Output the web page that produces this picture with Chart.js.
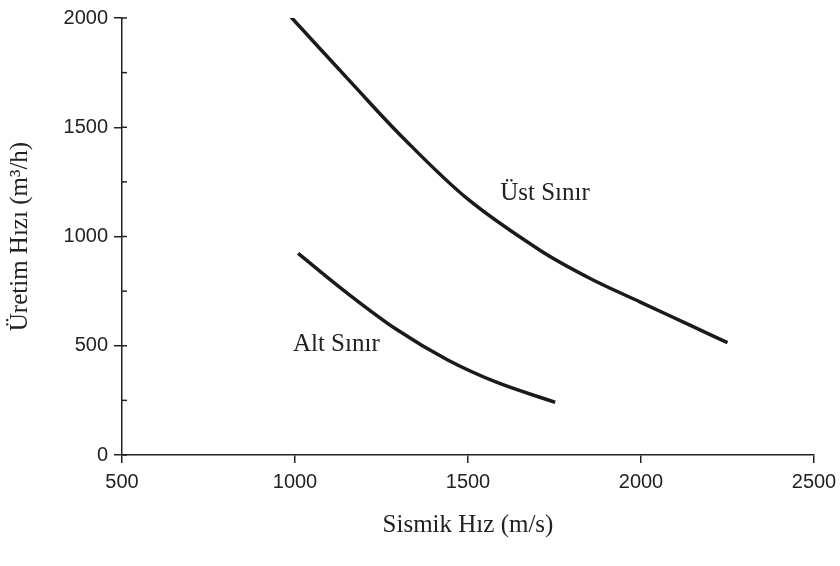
<!DOCTYPE html>
<html>
<head>
<meta charset="utf-8">
<script src="https://cdn.jsdelivr.net/npm/chart.js@4/dist/chart.umd.min.js"></script>
<style>
  html, body { margin: 0; padding: 0; background: #fff; }
  #wrap { width: 840px; height: 566px; }
</style>
</head>
<body>
<div id="wrap"><canvas id="chart"></canvas></div>
<script>
// --- Data ---
const upperX = [977, 1168, 1304, 1498, 1709, 1853, 1998, 2143, 2250];
const upperY = [2024, 1695, 1465, 1173, 936, 808, 700, 593, 514];
const lowerX = [1009, 1151, 1295, 1440, 1584, 1752];
const lowerY = [923, 741, 573, 436, 332, 241];

const xTicks = [500, 1000, 1500, 2000, 2500];
const yTicks = [0, 500, 1000, 1500, 2000];
const yMinorStep = 250;

const curveLabels = [
    { text: 'Üst Sınır', x: 1593, y: 1195 },
    { text: 'Alt Sınır', x: 994, y: 505 }
];

const ink = '#222';
const serif = '"Liberation Serif", "Times New Roman", serif';
const sans = '"Liberation Sans", Arial, sans-serif';

const toPoints = (xs, ys) => xs.map((x, i) => ({ x: x, y: ys[i] }));

// curve names, placed in data coordinates
const curveLabelPlugin = {
    id: 'curveLabels',
    afterDatasetsDraw(chart) {
        const { ctx, scales } = chart;
        ctx.save();
        ctx.font = '25px ' + serif;
        ctx.fillStyle = ink;
        ctx.textAlign = 'left';
        ctx.textBaseline = 'middle';
        curveLabels.forEach(l => {
            ctx.fillText(l.text, scales.x.getPixelForValue(l.x), scales.y.getPixelForValue(l.y));
        });
        ctx.restore();
    }
};

// short inward ticks on the y axis (every 250)
const innerTickPlugin = {
    id: 'innerTicks',
    afterDraw(chart) {
        const { ctx, scales, chartArea } = chart;
        const ys = scales.y;
        ctx.save();
        ctx.strokeStyle = ink;
        ctx.lineWidth = 1.5;
        ys.ticks.forEach(t => {
            const py = ys.getPixelForValue(t.value);
            ctx.beginPath();
            ctx.moveTo(chartArea.left, py);
            ctx.lineTo(chartArea.left + 5, py);
            ctx.stroke();
        });
        ctx.restore();
    }
};

const lineStyle = {
    showLine: true,
    borderColor: '#1a1a1a',
    borderWidth: 3.5,
    pointRadius: 0,
    fill: false,
    tension: 0.35
};

new Chart(document.getElementById('chart'), {
    type: 'scatter',
    data: {
        datasets: [
            { label: 'Üst Sınır', data: toPoints(upperX, upperY), ...lineStyle },
            { label: 'Alt Sınır', data: toPoints(lowerX, lowerY), ...lineStyle }
        ]
    },
    options: {
        responsive: true,
        maintainAspectRatio: false,
        animation: false,
        layout: { padding: { top: 16, right: 26, left: 0, bottom: 0 } },
        plugins: { legend: { display: false }, tooltip: { enabled: false } },
        scales: {
            x: {
                type: 'linear',
                min: xTicks[0],
                max: xTicks[xTicks.length - 1],
                afterBuildTicks: s => { s.ticks = xTicks.map(v => ({ value: v })); },
                afterFit: s => { s.height = 111; s.paddingLeft = 0; s.paddingRight = 0; },
                border: { display: true, color: ink, width: 1.5 },
                grid: { drawOnChartArea: false, drawTicks: true, tickLength: 8, color: ink, lineWidth: 1.5 },
                ticks: {
                    color: ink,
                    font: { family: sans, size: 20 },
                    padding: 7,
                    maxRotation: 0,
                    callback: v => String(v)
                },
                title: {
                    display: true,
                    text: 'Sismik Hız (m/s)',
                    color: ink,
                    font: { family: serif, size: 25 },
                    padding: { top: 0, bottom: 26 }
                }
            },
            y: {
                type: 'linear',
                min: yTicks[0],
                max: yTicks[yTicks.length - 1],
                ticks: {
                    stepSize: yMinorStep,
                    color: ink,
                    font: { family: sans, size: 20 },
                    padding: 6,
                    callback: v => yTicks.includes(v) ? String(v) : ''
                },
                afterFit: s => { s.width = 122; },
                border: { display: true, color: ink, width: 1.5 },
                grid: {
                    drawOnChartArea: false,
                    drawTicks: true,
                    tickLength: 8,
                    lineWidth: 1.5,
                    color: c => (c.tick && yTicks.includes(c.tick.value)) ? ink : 'rgba(0,0,0,0)'
                },
                title: {
                    display: true,
                    text: 'Üretim Hızı (m³/h)',
                    color: ink,
                    font: { family: serif, size: 25 },
                    padding: { top: 5, bottom: 0 }
                }
            }
        }
    },
    plugins: [curveLabelPlugin, innerTickPlugin]
});
</script>
</body>
</html>
